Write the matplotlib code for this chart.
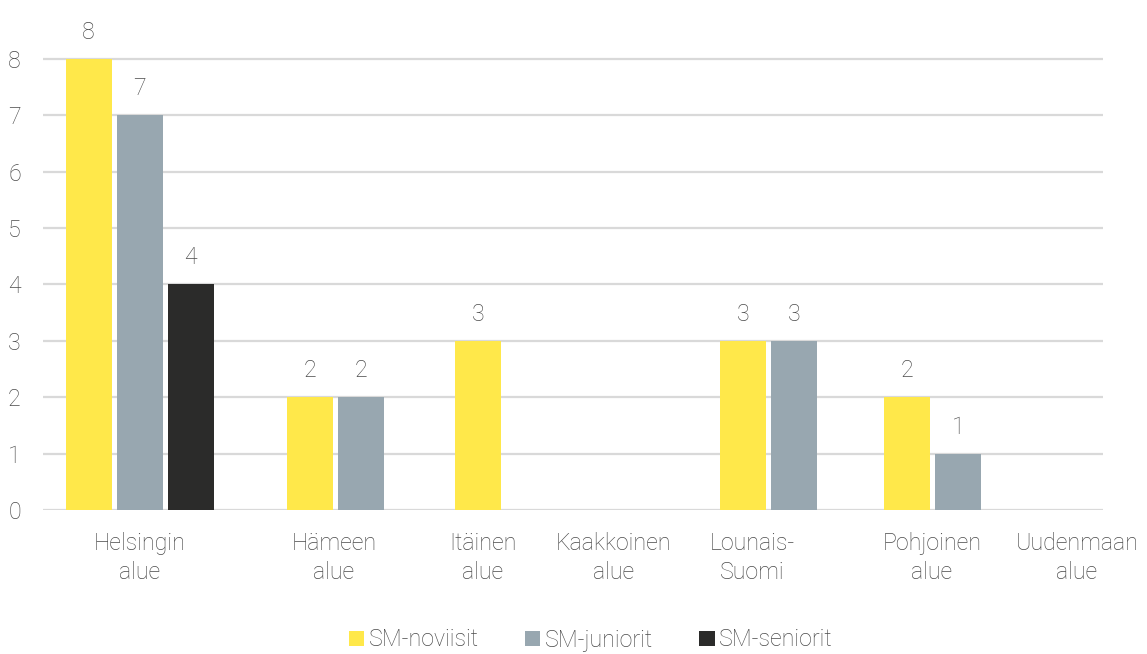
import matplotlib
matplotlib.use("Agg")
import matplotlib.pyplot as plt
from matplotlib.patches import Patch

# ---- data ----
categories = ["Helsingin\nalue", "Hämeen\nalue", "Itäinen\nalue", "Kaakkoinen\nalue",
              "Lounais-\nSuomi", "Pohjoinen\nalue", "Uudenmaan\nalue"]
series_names = ["SM-noviisit", "SM-juniorit", "SM-seniorit"]
noviisit = [8, 2, 3, 0, 3, 2, 0]
juniorit = [7, 2, 0, 0, 3, 1, 0]
seniorit = [4, 0, 0, 0, 0, 0, 0]
y_ticks = [0, 1, 2, 3, 4, 5, 6, 7, 8]

# ---- style / layout ----
colors = ["#FFE84A", "#98A7B0", "#2B2B2A"]
text_color = "#4A4A4A"
group_centers = [96.5, 292.5, 435, 571, 725.5, 889.5, 1034]
label_centers = [96.5, 291, 440, 571, 709, 889, 1034]
bar_step = 51
bar_width = 46
fs = 16.7

plt.rcParams["font.family"] = ["Roboto", "DejaVu Sans"]
plt.rcParams["font.weight"] = "light"

W, H = 1147, 654
fig = plt.figure(figsize=(W / 100, H / 100), dpi=100)
ax = fig.add_axes([43 / W, (H - 510) / H, 1060 / W, (510 - 8) / H])

series = [noviisit, juniorit, seniorit]
for ci, gc in enumerate(group_centers):
    present = [si for si in range(len(series)) if series[si][ci] > 0]
    n = len(present)
    for k, si in enumerate(present):
        x = gc + (k - (n - 1) / 2) * bar_step
        v = series[si][ci]
        ax.bar(x, v, width=bar_width, color=colors[si], zorder=3)
        ax.annotate(str(v), (x, v), xytext=(0, 19), textcoords="offset points",
                    ha="center", va="center", fontsize=fs, color=text_color)

ax.set_xlim(0, 1060)
ax.set_ylim(0, 8.9)
ax.set_yticks(y_ticks)
ax.set_yticklabels([str(t) for t in y_ticks])
ax.yaxis.grid(True, color="#D9D9D9", lw=1.6, zorder=0)
ax.set_axisbelow(True)
for s in ax.spines.values():
    s.set_visible(False)
ax.tick_params(axis="y", length=0, pad=16, labelsize=fs, labelcolor=text_color)
ax.set_xticks(label_centers)
ax.set_xticklabels(categories, linespacing=1.3)
ax.tick_params(axis="x", length=0, pad=16, labelsize=fs, labelcolor=text_color)

handles = [Patch(facecolor=c, edgecolor="none") for c in colors]
fig.legend(handles, series_names, loc="center", bbox_to_anchor=(591 / W, 1 - 640 / H),
           ncol=3, frameon=False, handlelength=0.65, handleheight=0.65,
           handletextpad=0.2, columnspacing=2.0, fontsize=fs, labelcolor=text_color)

fig.savefig("out.png", dpi=100)
